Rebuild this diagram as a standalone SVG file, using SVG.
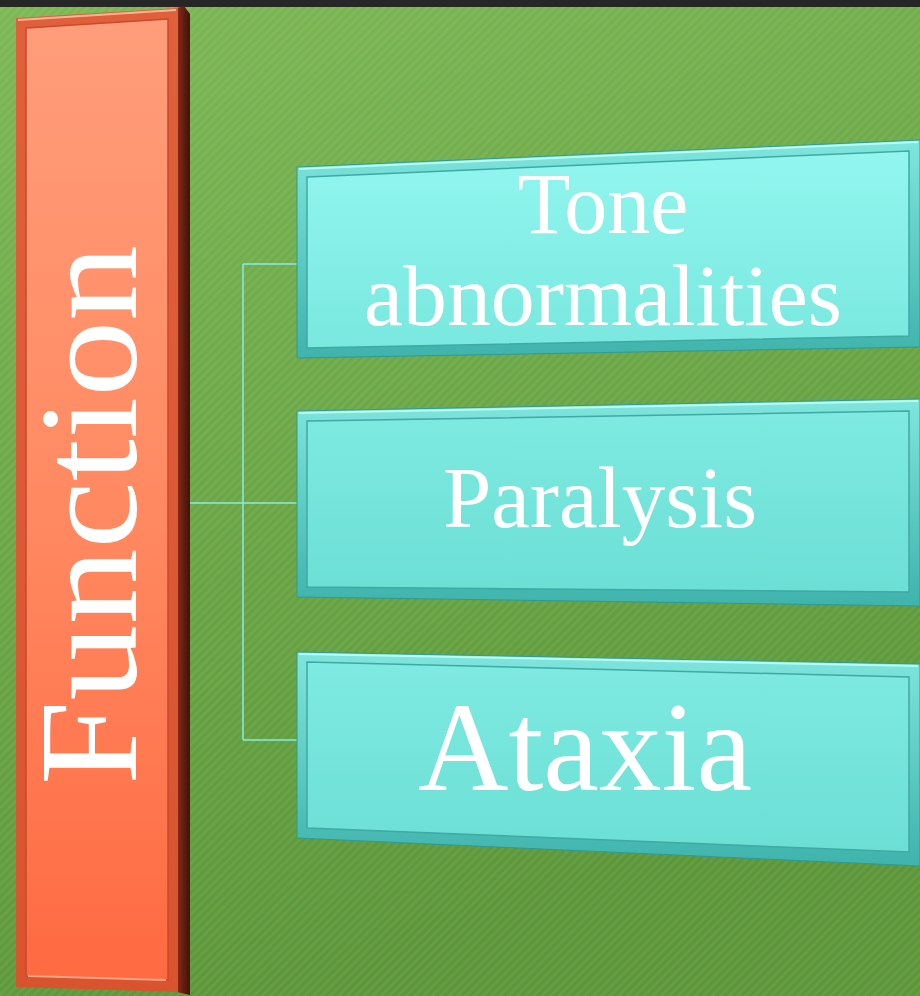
<svg xmlns="http://www.w3.org/2000/svg" width="920" height="996" viewBox="0 0 920 996">
<defs>
<linearGradient id="bg" x1="0" y1="0" x2="0.3" y2="1">
<stop offset="0" stop-color="#7cb854"/>
<stop offset="1" stop-color="#5b9638"/>
</linearGradient>
<pattern id="stripes" width="6" height="6" patternUnits="userSpaceOnUse" patternTransform="rotate(45)">
<rect width="3" height="6" fill="#ffffff" opacity="0.06"/>
</pattern>
<linearGradient id="barFace" x1="0" y1="0" x2="0" y2="1">
<stop offset="0" stop-color="#ff9d7a"/>
<stop offset="0.5" stop-color="#ff8a62"/>
<stop offset="1" stop-color="#ff6a42"/>
</linearGradient>
<linearGradient id="barEdge" x1="0" y1="0" x2="0" y2="1">
<stop offset="0" stop-color="#e0603c"/>
<stop offset="1" stop-color="#d9532f"/>
</linearGradient>
<linearGradient id="barSide" x1="0" y1="0" x2="1" y2="0">
<stop offset="0" stop-color="#8a2a18"/>
<stop offset="1" stop-color="#3e120a"/>
</linearGradient>
<linearGradient id="boxFace1" x1="0" y1="0" x2="0" y2="1">
<stop offset="0" stop-color="#92f6ef"/>
<stop offset="1" stop-color="#79e8df"/>
</linearGradient>
<linearGradient id="boxFace" x1="0" y1="0" x2="0" y2="1">
<stop offset="0" stop-color="#7eeae1"/>
<stop offset="1" stop-color="#6cdfd5"/>
</linearGradient>
<linearGradient id="boxEdge" x1="0" y1="0" x2="0" y2="1">
<stop offset="0" stop-color="#7fe6de"/>
<stop offset="1" stop-color="#3fb3ac"/>
</linearGradient>
</defs>
<style>
.conn{stroke:#86ece5;stroke-width:1.5;fill:none}
.lbl{font-family:"Liberation Serif","Times New Roman",serif;fill:#ffffff;text-anchor:middle}
.edge{fill:url(#boxEdge);stroke:#2f9a94;stroke-width:1}
.face{stroke:#3fa9a3;stroke-width:1.5}
.hl{stroke:#c8fffb;stroke-width:2;fill:none;opacity:0.8}
</style>
<rect x="0" y="0" width="920" height="996" fill="url(#bg)"/>
<rect x="0" y="0" width="920" height="996" fill="url(#stripes)"/>
<rect x="0" y="0" width="920" height="7" fill="#262626"/>

<g id="connectors">
<path class="conn" d="M187,503 H298"/>
<path class="conn" d="M243,264 V740"/>
<path class="conn" d="M243,264 H298"/>
<path class="conn" d="M243,740 H298"/>
</g>

<g id="function">
<polygon points="177,8 184,6 190,14 190,995 177,992" fill="url(#barSide)"/>
<polygon points="16,18 178,8 178,992 16,987" fill="url(#barEdge)"/>
<polygon points="26,28 168,19 168,980 26,976" fill="url(#barFace)" stroke="#c84a2a" stroke-width="1.5"/>
<path d="M18,20 L176,10" stroke="#ffb394" stroke-width="2" fill="none"/>
<path d="M28,976 L166,980" stroke="#ffa584" stroke-width="2" fill="none"/>
<text class="lbl" transform="translate(136,515) rotate(-90)" font-size="140" textLength="540" lengthAdjust="spacingAndGlyphs">Function</text>
</g>

<g id="tone">
<polygon class="edge" points="297,167 920,140 920,347 297,358"/>
<polygon class="face" points="307,177 909,151 909,336 307,348" fill="url(#boxFace1)"/>
<path class="hl" d="M299,169 L918,142"/>
<text class="lbl" x="603" y="233" font-size="86">Tone</text>
<text class="lbl" x="603" y="325" font-size="86" textLength="478" lengthAdjust="spacingAndGlyphs">abnormalities</text>
</g>

<g id="paralysis">
<polygon class="edge" points="297,411 920,399 920,606 297,597"/>
<polygon class="face" points="307,421 909,411 909,592 307,587" fill="url(#boxFace)"/>
<path class="hl" d="M299,413 L918,401"/>
<text class="lbl" x="600" y="527" font-size="86" textLength="314" lengthAdjust="spacingAndGlyphs">Paralysis</text>
</g>

<g id="ataxia">
<polygon class="edge" points="297,652 920,664 920,866 297,838"/>
<polygon class="face" points="307,662 909,677 909,852 307,828" fill="url(#boxFace)"/>
<path class="hl" d="M299,654 L918,666"/>
<text class="lbl" x="585" y="790" font-size="128" textLength="334" lengthAdjust="spacingAndGlyphs">Ataxia</text>
</g>
</svg>
